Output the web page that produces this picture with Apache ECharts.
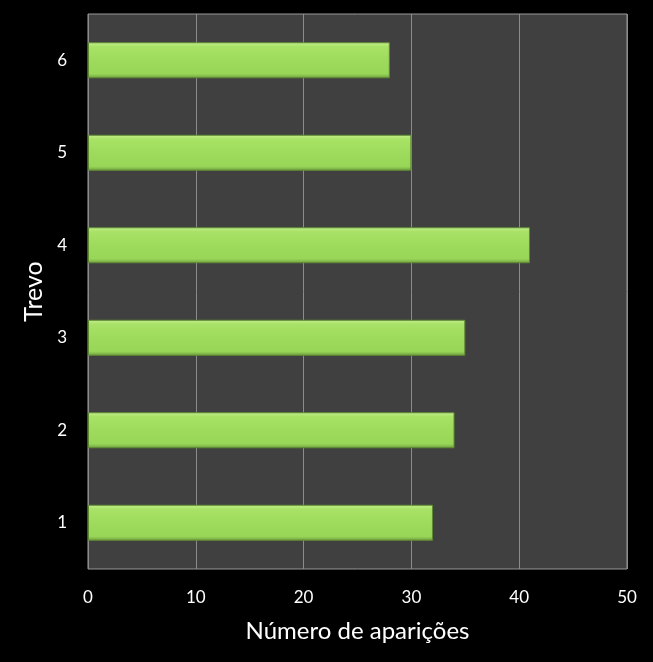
<!DOCTYPE html>
<html><head><meta charset="utf-8">
<script src="https://cdn.jsdelivr.net/npm/echarts@6/dist/echarts.min.js"></script>
<style>html,body{margin:0;padding:0;background:#000;}#c{width:653px;height:662px;}</style>
</head><body><div id="c"></div>
<script>
const categories = ['1','2','3','4','5','6'];
const values = [32, 34, 35, 41, 30, 28];
const xTicks = [0, 10, 20, 30, 40, 50];

const chart = echarts.init(document.getElementById('c'));
chart.setOption({
  backgroundColor: '#000000',
  animation: false,
  grid: { left: 88, right: 26, top: 14, bottom: 93, show: true, backgroundColor: '#404040', borderColor: '#9a9a9a', borderWidth: 1 },
  xAxis: {
    type: 'value', min: xTicks[0], max: xTicks[xTicks.length-1], interval: 10,
    name: 'Número de aparições', nameLocation: 'middle', nameGap: 50,
    nameTextStyle: { color: '#ffffff', fontSize: 24, fontFamily: 'Lato' },
    axisLine: { show: false }, axisTick: { show: false },
    axisLabel: { color: '#ffffff', fontSize: 17, fontFamily: 'Lato', margin: 20 },
    splitLine: { show: true, lineStyle: { color: '#8c8c8c', width: 1 } }
  },
  yAxis: {
    type: 'category', data: categories,
    name: 'Trevo', nameLocation: 'middle', nameGap: 42, nameRotate: 90,
    nameTextStyle: { color: '#ffffff', fontSize: 25, fontFamily: 'Lato' },
    axisLine: { show: false }, axisTick: { show: false },
    axisLabel: { color: '#ffffff', fontSize: 17, fontFamily: 'Lato', margin: 21 },
    splitLine: { show: false }
  },
  series: [{
    type: 'bar', data: values, barWidth: 36,
    itemStyle: {
      color: new echarts.graphic.LinearGradient(0, 0, 0, 1, [
        { offset: 0, color: '#c6ef90' },
        { offset: 0.12, color: '#a8e266' },
        { offset: 0.5, color: '#9edb5c' },
        { offset: 0.88, color: '#98d657' },
        { offset: 1, color: '#6f9c3e' }
      ]),
      borderColor: '#5e8a33', borderWidth: 1
    }
  }]
});
</script></body></html>
